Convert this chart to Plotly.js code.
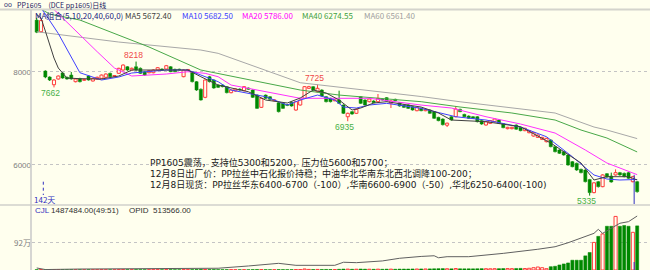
<!DOCTYPE html>
<html><head><meta charset="utf-8">
<script src="https://cdn.plot.ly/plotly-3.0.1.min.js"></script>
<style>html,body{margin:0;padding:0;background:#FFFFEE;}#chart{width:650px;height:270px;}</style>
</head><body><div id="chart"></div>
<script>
// ---- daily OHLC (candle index 0..139) ----
const openP  = [9110,8860,8015,7886,7720,7843,7972,7880,7928,7785, 7850,7815,7907,7800,7840,7857,7880,7965,7900,7965,
                8036,8107,8036,8107,8073,8000,7978,7978,8036,8058, 8058,8107,8051,8050,7893,8030,8000,7785,7622,7449,
                7893,7821,7713,7713,7678,7549,7585,7628,7592,7649, 7606,7498,7234,7498,7462,7376,7333,7320,7290,7342,
                7176,7284,7428,7643,7678,7570,7606,7462,7428,7375, 7391,7284,7032,7140,7105,7462,7391,7355,7370,7355,
                7413,7442,7320,7406,7333,7284,7284,7248,7161,7212, 7161,7176,7140,7019,6983,6849,7032,7032,7191,7083,
                7047,7032,7032,6947,6854,6889,6925,6961,6882,6775, 6775,6854,6804,6732,6688,6617,6588,6545,6495,6531,
                6387,6316,6280,6209,6065,6030,5901,5886,5680,5400, 5635,5528,5807,5757,5780,5829,5815,5829,5635,5635];
const highP  = [9160,9150,8030,7900,7840,7920,7990,7895,7993,7855, 7870,7845,7920,7870,7895,7940,7965,7980,7925,8085,
                8160,8120,8090,8218,8090,8015,8035,8050,8100,8070, 8145,8120,8065,8065,8050,8055,8015,7800,7640,7835,
                7910,7835,7725,7725,7690,7620,7640,7640,7690,7660, 7620,7510,7440,7510,7475,7405,7345,7335,7305,7355,
                7370,7405,7690,7695,7690,7725,7620,7475,7440,7405, 7592,7295,7120,7155,7205,7475,7405,7425,7385,7520,
                7425,7455,7385,7420,7345,7295,7295,7260,7245,7225, 7205,7190,7155,7030,6995,6905,7045,7262,7205,7095,
                7060,7045,7045,6960,6940,6960,6995,6975,6895,6815, 6815,6865,6815,6795,6745,6700,6650,6600,6580,6545,
                6400,6330,6295,6220,6080,6045,5915,5900,5695,5625, 5650,5795,5820,5830,5900,5845,5830,5845,5760,5650];
const lowP   = [8830,8840,7860,7800,7662,7830,7850,7830,7830,7770, 7770,7800,7810,7790,7830,7845,7870,7880,7885,7955,
                8020,8020,8020,8020,7950,7910,7965,7965,8020,8020, 8045,7990,7990,8025,7880,8020,7770,7590,7380,7430,
                7770,7635,7650,7665,7535,7535,7570,7595,7580,7610, 7435,7200,7220,7415,7395,7365,7125,7200,7260,7250,
                7160,7270,7415,7630,7595,7555,7465,7340,7340,7365, 7305,7090,6935,7075,7090,7305,7270,7340,7320,7340,
                7380,7360,7219,7365,7250,7220,7200,7165,7150,7150, 7150,7095,6985,6935,6845,6810,6950,7020,7130,7020,
                6985,6985,6910,6860,6840,6875,6910,6875,6785,6760, 6760,6750,6720,6720,6675,6605,6575,6530,6480,6375,
                6265,6230,6195,5980,5945,5870,5815,5620,5335,5385, 5510,5515,5720,5615,5765,5765,5730,5695,5620,5400];
const closeP = [8850,9100,7886,7821,7821,7907,7864,7843,7843,7843, 7785,7830,7821,7857,7880,7928,7950,7893,7910,8073,
                8143,8036,8073,8036,7965,7928,8021,8036,8086,8036, 8129,8000,8000,8036,8036,8040,7785,7606,7391,7821,
                7785,7649,7664,7678,7549,7606,7628,7606,7678,7622, 7449,7212,7428,7428,7406,7391,7140,7212,7275,7262,
                7355,7391,7678,7678,7606,7643,7477,7355,7355,7391, 7320,7105,7105,7090,7191,7320,7284,7413,7333,7428,
                7391,7371,7371,7376,7262,7234,7212,7176,7234,7161, 7191,7105,6998,6947,6860,6893,6961,7198,7140,7032,
                6998,6998,6925,6875,6925,6947,6983,6889,6796,6804, 6804,6763,6732,6783,6732,6688,6638,6588,6567,6387,
                6280,6245,6209,5994,5957,5886,5829,5635,5400,5610, 5528,5780,5735,5628,5829,5780,5743,5708,5743,5420];
// volume (万手) and open interest (万手)
const volume = [1.2,1.5,1.0,1.3,1.1,0.9,1.2,1.0,1.1,0.9, 1.0,0.8,1.1,0.9,1.0,1.2,1.0,0.9,0.8,1.3,
                1.5,1.2,1.0,1.3,1.1,1.0,0.9,1.0,1.1,0.9, 1.2,1.1,1.0,0.9,1.2,1.0,1.3,1.6,2.0,1.8,
                1.4,1.5,1.2,1.1,1.3,1.2,1.0,1.0,1.1,1.0, 1.4,1.8,1.6,1.3,1.2,1.1,1.5,1.4,1.2,1.3,
                1.5,1.6,3.5,2.0,1.8,2.0,1.8,1.9,1.7,1.6, 2.4,3.2,3.0,2.5,2.6,3.4,2.8,2.6,2.4,2.8,
                2.5,2.9,3.0,2.6,3.1,3.2,3.3,3.5,3.4,3.6, 3.5,3.8,4.2,4.5,4.8,4.3,4.0,5.0,4.2,4.0,
                4.1,4.0,4.3,4.6,4.4,4.2,4.5,4.6,5.0,4.8, 4.6,5.2,5.5,5.0,5.8,7.8,10,7.8,4.4,11.2,
                12.6,17,20.4,23.8,33,33,33,47.7,59,93, 113.5,121.6,147.5,147.5,180.6,147.5,150,147.5,127,148.7484];
const oiIdx = [0,1,2,10,20,30,40,42,49,56,60,69,71,74,80,84,89,92,93,95,100,108,116,120,123,127,129,130,131,133,135,137,139];
const oiVal = [12.2,11.5,11.0,11.4,11.6,11.8,12.2,12.0,13.7,15.7,14.2,14.2,16.5,16.2,17.5,19.5,20.9,21.4,19.9,20.7,20.7,23.2,26.3,28.2,31.2,36.3,38.3,41.3,38.3,42.1,45.9,47.1,51.3566];
// moving averages
const ma5Idx  = [0,1,2,3,4,5,6,7,10,15,19,22,30,35,38,41,42,49,53,58,61,64,67,70,73,75,78,81,89,93,96,104,112,119,126,129,132,137,139];
const ma5Val  = [9230,9154,8875,8574,8294,8079,7972,7864,7850,7843,7907,8036,8036,8036,7892,7756,7713,7569,7391,7327,7434,7606,7542,7391,7176,7219,7327,7355,7240,7112,6961,6925,6817,6466,6037,5671,5742,5742,5672.4];
const ma10Idx = [0,2,5,8,10,15,19,22,30,35,39,42,45,53,58,61,65,69,71,74,77,81,89,95,97,104,112,118,124,129,132,135,139];
const ma10Val = [9480,9240,8821,8316,7978,7821,7886,7972,8036,8036,7892,7785,7606,7462,7284,7391,7498,7391,7241,7219,7284,7320,7212,7068,7032,6961,6811,6602,6172,5779,5692,5671,5682.5];
const ma20Idx = [0,6,10,14,18,22,30,35,39,42,45,53,61,69,77,89,96,104,112,120,127,132,138,139];
const ma20Val = [9700,9150,8778,8430,8079,7907,7950,8000,7965,7892,7713,7569,7428,7428,7428,7283,7219,7032,6875,6681,6316,6036,5821,5786];
const ma40Idx = [0,3,10,17,26,38,61,70,89,98,110,120,126,132,139];
const ma40Val = [9400,9240,9111,8853,8531,8036,7606,7498,7355,7241,7112,6961,6746,6574,6274.55];
const ma60Idx = [0,19,38,42,61,89,98,120,129,132,139];
const ma60Val = [8859,8638,8466,8395,7763,7466,7354,7112,6811,6746,6561.4];
// labels
const priceTicks = [6000,8000], priceTickText = ['6000','8000'];
const volTicks = [92], volTickText = ['92万'];
const extIdx = [4,23,65,72,128];
const extVal = [7662,8218,7725,6935,5335];
const extKind = ['low','high','high','low','low'];
const cursorIdx = 138;
const titleText = 'PP1605　(DCE pp1605)日线';
const legendItems = [['MA组合(5,10,20,40,60,0)','#202080',33],['MA5 5672.40','#404040',123],['MA10 5682.50','#3C3CFF',180],
                     ['MA20 5786.00','#FF00FF',240],['MA40 6274.55','#40A040',300],['MA60 6561.40','#A0A0A0',362]];
const noteLines = ['PP1605震荡，支持位5300和5200，压力位5600和5700；',
                   '12月8日出厂价：PP拉丝中石化报价持稳；中油华北华南东北西北调降100-200；',
                   '12月8日现货：PP拉丝华东6400-6700（-100）,华南6600-6900（-50）,华北6250-6400(-100)'];

// ---- build ----
const W=650,H=270, BG='#FFFFEE', RED='#FF3C3C', GRN='#008800';
const N = closeP.length;
const up = {x:[],base:[],y:[],wx:[],wy:[],vx:[],vy:[]}, dn = {x:[],base:[],y:[],wx:[],wy:[],vx:[],vy:[]};
const minBody = 18;
for (let i=0;i<N;i++){
  const o=openP[i], c=closeP[i], h=highP[i], l=lowP[i];
  const g = c>=o ? up : dn;
  const top=Math.max(o,c), bot=Math.min(o,c);
  g.x.push(i); g.base.push(bot); g.y.push(Math.max(top-bot,minBody));
  g.wx.push(i,i,null,i,i,null); g.wy.push(h,top,null,bot,l,null);
  g.vx.push(i); g.vy.push(volume[i]);
}
const bw = 0.72;
const traces = [
  {type:'scatter',mode:'lines',x:up.wx,y:up.wy,line:{color:RED,width:1},xaxis:'x',yaxis:'y',hoverinfo:'skip'},
  {type:'scatter',mode:'lines',x:dn.wx,y:dn.wy,line:{color:GRN,width:1},xaxis:'x',yaxis:'y',hoverinfo:'skip'},
  {type:'bar',x:up.x,base:up.base,y:up.y,width:bw,marker:{color:BG,line:{color:RED,width:1}},xaxis:'x',yaxis:'y'},
  {type:'bar',x:dn.x,base:dn.base,y:dn.y,width:bw,marker:{color:GRN,line:{color:GRN,width:0.5}},xaxis:'x',yaxis:'y'},
  {type:'scatter',mode:'lines',x:ma60Idx,y:ma60Val,line:{color:'#A8A8A8',width:1},xaxis:'x',yaxis:'y'},
  {type:'scatter',mode:'lines',x:ma40Idx,y:ma40Val,line:{color:'#48A848',width:1},xaxis:'x',yaxis:'y'},
  {type:'scatter',mode:'lines',x:ma20Idx,y:ma20Val,line:{color:'#FF30FF',width:1},xaxis:'x',yaxis:'y'},
  {type:'scatter',mode:'lines',x:ma10Idx,y:ma10Val,line:{color:'#4040FF',width:1},xaxis:'x',yaxis:'y'},
  {type:'scatter',mode:'lines',x:ma5Idx,y:ma5Val,line:{color:'#404040',width:1},xaxis:'x',yaxis:'y'},
  {type:'bar',x:up.vx,y:up.vy,width:bw,marker:{color:BG,line:{color:RED,width:1}},xaxis:'x2',yaxis:'y2'},
  {type:'bar',x:dn.vx,y:dn.vy,width:bw,marker:{color:GRN,line:{color:GRN,width:0.5}},xaxis:'x2',yaxis:'y2'},
  {type:'scatter',mode:'lines',x:oiIdx,y:oiVal,line:{color:'#606060',width:1},xaxis:'x2',yaxis:'y3'}
];
const px = p=>p/W, py = p=>1-p/H;
const xr = [-1.09, 141.97];
const fSans = 'Liberation Sans, Arial, sans-serif';
const ann = [];
const A = (text,x,y,color,size,family,extra)=>ann.push(Object.assign({text,x:px(x),y:py(y),xref:'paper',yref:'paper',xanchor:'left',yanchor:'middle',showarrow:false,font:{color,size,family}},extra||{}));
A('oo',2,4.5,'#303070',7,fSans);
A(titleText,15,4.5,'#202060',7,'Noto Sans CJK SC, '+fSans);
legendItems.forEach(([t,c,x])=>A(t,x,15,c,8,'Noto Sans CJK SC, '+fSans));
// comment block: one multi-line text; base size sets an 11px line pitch, glyphs drawn at 9px
ann.push({text:noteLines.map(t=>'<span style="font-size:9px">'+t+'</span>').join('<br>'),
  x:px(148),y:py(154.5),xref:'paper',yref:'paper',xanchor:'left',yanchor:'top',align:'left',showarrow:false,
  font:{size:8.46,color:'#202020',family:'DejaVu Sans, Noto Sans CJK SC'}});
A('142天',32,199,'#3030C0',8,'Noto Sans CJK SC, '+fSans);
A('CJL',33,210.7,'#3030C0',8,fSans);
A('1487484.00(49:51)',49,210.7,'#303030',8,fSans);
A('OPID',127,210.7,'#303030',8,fSans);
A('513566.00',151,210.7,'#303030',8,fSans);
extIdx.forEach((i,k)=>{
  const hi = extKind[k]==='high';
  ann.push({text:String(extVal[k]),x:i,y:extVal[k],xref:'x',yref:'y',xanchor:'center',yanchor:'middle',xshift:-3,yshift:hi?6.5:-5.5,showarrow:false,font:{size:8.5,color:hi?'#F04848':'#48B048',family:fSans}});
});
const shapes = [
  {type:'rect',xref:'paper',yref:'paper',layer:'below',x0:px(147),x1:px(482),y0:py(166.5),y1:py(162.5),fillcolor:BG,line:{width:0}},
  {type:'line',xref:'paper',yref:'paper',x0:0,x1:1,y0:py(9.5),y1:py(9.5),line:{color:'#D4D4CC',width:2}},
  {type:'line',xref:'paper',yref:'paper',x0:0,x1:1,y0:py(205),y1:py(205),line:{color:'#DCDCD4',width:2}},
  {type:'line',xref:'paper',yref:'paper',x0:px(31),x1:px(31),y0:0,y1:py(10),line:{color:'#C8C8C8',width:1.5}},
  {type:'line',xref:'paper',yref:'paper',x0:px(43.3),x1:px(43.3),y0:py(181.7),y1:py(195),line:{color:'#3030C0',width:1,dash:'dot'}},
  {type:'line',xref:'x',yref:'y',x0:cursorIdx+0.3,x1:cursorIdx+0.3,y0:closeP[cursorIdx]+40,y1:5155,line:{color:'#3030C0',width:1}},
  {type:'line',xref:'x2',yref:'paper',x0:cursorIdx+0.3,x1:cursorIdx+0.3,y0:0,y1:py(262),line:{color:'#3030C0',width:1}}
];
const axX = {range:xr,showgrid:false,zeroline:false,showline:false,showticklabels:false,ticks:'',fixedrange:true};
const layout = {
  width:W,height:H,margin:{l:0,r:0,t:0,b:0,pad:0},paper_bgcolor:BG,plot_bgcolor:BG,showlegend:false,
  barmode:'overlay',bargap:0,hovermode:false,
  xaxis:Object.assign({domain:[px(32),1],anchor:'y'},axX),
  xaxis2:Object.assign({domain:[px(32),1],anchor:'y2'},axX),
  yaxis:{domain:[py(204),py(10)],range:[5155,9327],anchor:'x',tickmode:'array',tickvals:priceTicks,ticktext:priceTickText,
         showgrid:true,gridcolor:'#C4C4C4',griddash:'dot',gridwidth:1,zeroline:false,showline:false,ticks:'',
         tickfont:{size:8,color:'#808080',family:fSans},fixedrange:true},
  yaxis2:{domain:[0,py(206)],range:[0,215.7],anchor:'x2',tickmode:'array',tickvals:volTicks,ticktext:volTickText,
         showgrid:true,gridcolor:'#C4C4C4',griddash:'dot',gridwidth:1,zeroline:false,showline:false,ticks:'',
         tickfont:{size:8,color:'#808080',family:'Noto Sans CJK SC, '+fSans},fixedrange:true},
  yaxis3:{overlaying:'y2',anchor:'x2',range:[10.67,58.9],visible:false,fixedrange:true},
  annotations:ann, shapes:shapes
};
Plotly.newPlot('chart',traces,layout,{staticPlot:true,displayModeBar:false});
</script></body></html>
